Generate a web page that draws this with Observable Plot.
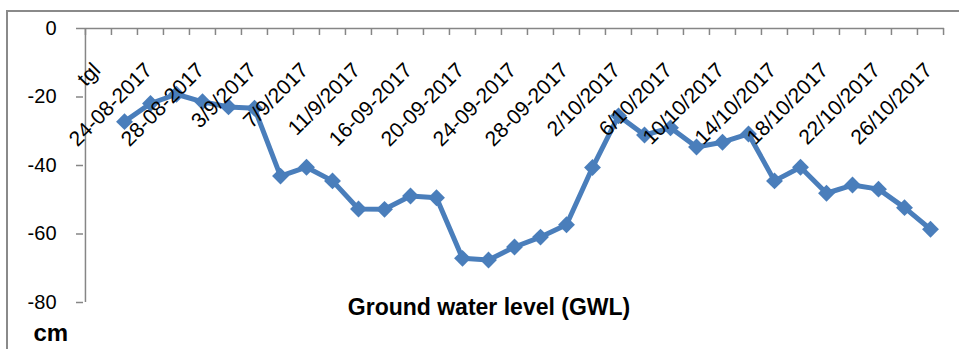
<!DOCTYPE html>
<html><head><meta charset="utf-8">
<script src="https://cdn.jsdelivr.net/npm/d3@7"></script>
<script src="https://cdn.jsdelivr.net/npm/@observablehq/plot@0.6"></script>
<style>
body{margin:0;background:#fff;}
#wrap{position:relative;width:959px;height:349px;overflow:hidden;background:#fff;}
#border{position:absolute;left:6px;top:10px;width:1000px;height:400px;border-left:2px solid #8a8a8a;border-top:2px solid #8a8a8a;pointer-events:none;}
</style></head>
<body><div id="wrap"><div id="border"></div></div>
<script>
const categories = ["tgl","22-08-2017","24-08-2017","26-08-2017","28-08-2017","31-08-2017","3/9/2017","5/9/2017","7/9/2017","9/9/2017","11/9/2017","14-09-2017","16-09-2017","18-09-2017","20-09-2017","22-09-2017","24-09-2017","26-09-2017","28-09-2017","30-09-2017","2/10/2017","4/10/2017","6/10/2017","8/10/2017","10/10/2017","12/10/2017","14/10/2017","16/10/2017","18/10/2017","20/10/2017","22/10/2017","24/10/2017","26/10/2017"];
const gwl = [null,-27.2,-21.9,-19.2,-21.4,-22.9,-23.3,-43.1,-40.5,-44.5,-52.7,-52.8,-48.9,-49.4,-67.1,-67.6,-63.8,-60.9,-57.3,-40.6,-25.5,-31.1,-29.0,-34.6,-33.2,-30.8,-44.5,-40.5,-48.1,-45.7,-46.9,-52.3,-58.6];
const tickLabels = categories.filter((d, i) => i % 2 === 0);
const yTicks = [0, -20, -40, -60, -80];
const yTickLabels = ["0", "-20", "-40", "-60", "-80"];
const titleText = "Ground water level (GWL)";
const unitText = "cm";

const W = 959, H = 349, ml = 83, mr = 15, mt = 28, mb = 47;
const step = (W - ml - mr) / categories.length;
const frameH = H - mt - mb, frameW = W - ml - mr;
const data = categories.map((c, i) => ({date: c, v: gwl[i]})).filter(d => d.v != null);
const yLab = yTicks.map((t, i) => ({t, label: yTickLabels[i]}));
const blue = "#4a7ebb", grey = "#868686";

const chart = Plot.plot({
  width: W, height: H, marginLeft: ml, marginRight: mr, marginTop: mt, marginBottom: mb,
  style: {fontFamily: "'Liberation Sans', Arial, sans-serif", background: "transparent", color: "black"},
  x: {type: "point", domain: categories, padding: 0.5, axis: null},
  y: {domain: [-80, 0], axis: null},
  marks: [
    Plot.ruleY([0], {stroke: grey, strokeWidth: 1.5}),
    Plot.ruleX([categories[0]], {dx: -step / 2, stroke: grey, strokeWidth: 1.5}),
    Plot.tickX(categories, {x: d => d, dx: -step / 2, insetBottom: frameH - 7, stroke: grey, strokeWidth: 1.5}),
    Plot.tickX([categories[categories.length - 1]], {x: d => d, dx: step / 2, insetBottom: frameH - 7, stroke: grey, strokeWidth: 1.5}),
    Plot.tickY(yTicks, {y: d => d, dx: -7, insetRight: frameW - 7, stroke: grey, strokeWidth: 1.5}),
    Plot.text(yLab, {y: "t", text: "label", frameAnchor: "left", dx: -27, textAnchor: "end", fontSize: 20, fill: "black"}),
    Plot.line(data, {x: "date", y: "v", stroke: blue, strokeWidth: 5}),
    Plot.dot(data, {x: "date", y: "v", symbol: "diamond2", r: 7.6, fill: blue, stroke: "none"}),
    Plot.text(tickLabels, {x: d => d, frameAnchor: "top", dx: 3, dy: 43, rotate: -45, textAnchor: "end", lineAnchor: "bottom", fontSize: 21, fill: "black"}),
    Plot.text([titleText], {frameAnchor: "bottom", dx: -25, dy: 12, lineAnchor: "bottom", fontSize: 23, fontWeight: "bold", fill: "black"}),
    Plot.text([unitText], {frameAnchor: "bottom-left", dx: -50, dy: 38, textAnchor: "start", lineAnchor: "bottom", fontSize: 24, fontWeight: "bold", fill: "black"})
  ]
});
document.getElementById("wrap").insertBefore(chart, document.getElementById("border"));
</script>
</body></html>
